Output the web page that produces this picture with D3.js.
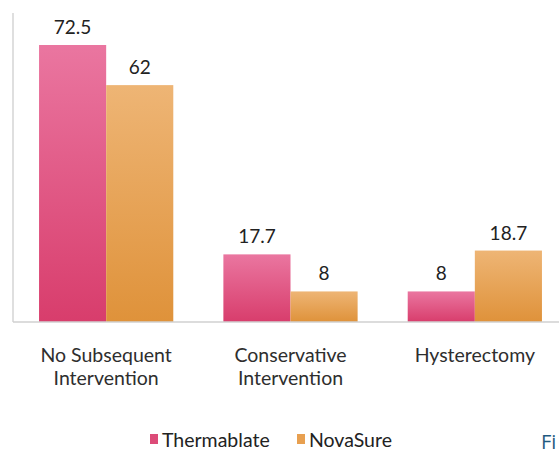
<!DOCTYPE html>
<html><head><meta charset="utf-8">
<script src="https://cdn.jsdelivr.net/npm/d3@7/dist/d3.min.js"></script>
<style>body{margin:0;background:#fff}svg{display:block}</style>
</head><body>
<svg id="c" width="559" height="454"></svg>
<script>
const categories = [["No Subsequent","Intervention"],["Conservative","Intervention"],["Hysterectomy"]];
const categoryKeys = ["No Subsequent Intervention","Conservative Intervention","Hysterectomy"];
const seriesNames = ["Thermablate","NovaSure"];
const thermablate = [72.5, 17.7, 8];
const novasure = [62, 8, 18.7];
const valueLabels = [["72.5","62"],["17.7","8"],["8","18.7"]];

const svg = d3.select("#c");
const W = 559, H = 454;
const baseY = 322, topY = 13, axisX = 13;
const FONT = "Lato, 'Noto Sans', sans-serif";

const defs = svg.append("defs");
const grads = [["gPink","#ea76a0","#d83d6c"],["gOrange","#eeb575","#df923a"]];
grads.forEach(([id,c1,c2])=>{
  const g = defs.append("linearGradient").attr("id",id).attr("x1",0).attr("y1",0).attr("x2",0).attr("y2",1);
  g.append("stop").attr("offset","0%").attr("stop-color",c1);
  g.append("stop").attr("offset","100%").attr("stop-color",c2);
});
const fills = ["url(#gPink)","url(#gOrange)"];
const legendColors = ["#dc4b78","#e8a050"];

const x0 = d3.scaleBand().domain(categoryKeys).range([axisX, 568]).paddingInner(50/184).paddingOuter(26/184);
const x1 = d3.scaleBand().domain(seriesNames).range([0, x0.bandwidth()]);
const y = d3.scaleLinear().domain([0, 72.5]).range([baseY, 45]);

svg.append("line").attr("x1",axisX).attr("x2",axisX).attr("y1",topY).attr("y2",baseY)
  .attr("stroke","#d4d4d4").attr("stroke-width",1.5);

const data = categoryKeys.map((k,i)=>({k, vals:[thermablate[i], novasure[i]], labels: valueLabels[i], lines: categories[i]}));

const groups = svg.selectAll("g.grp").data(data).join("g").attr("class","grp")
  .attr("transform", d=>`translate(${x0(d.k)},0)`);

groups.selectAll("rect").data(d=>d.vals.map((v,j)=>({v,j,s:seriesNames[j]}))).join("rect")
  .attr("x", d=>x1(d.s)).attr("width", x1.bandwidth())
  .attr("y", d=>y(d.v)).attr("height", d=>baseY - y(d.v))
  .attr("fill", d=>fills[d.j]);

groups.selectAll("text.val").data(d=>d.vals.map((v,j)=>({v,j,s:seriesNames[j],t:d.labels[j]}))).join("text")
  .attr("class","val")
  .attr("x", d=>x1(d.s)+x1.bandwidth()/2).attr("y", d=>y(d.v)-11)
  .attr("text-anchor","middle").attr("font-family",FONT).attr("font-size",19)
  .attr("fill","#222").text(d=>d.t);

svg.append("line").attr("x1",axisX).attr("x2",W).attr("y1",baseY).attr("y2",baseY)
  .attr("stroke","#d0d0d0").attr("stroke-width",1.5);

groups.each(function(d){
  const g = d3.select(this);
  d.lines.forEach((ln,i)=>{
    g.append("text").attr("x", x0.bandwidth()/2).attr("y", 362 + i*23)
      .attr("text-anchor","middle").attr("font-family",FONT).attr("font-size",19.5)
      .attr("fill","#2e2e2e").text(ln);
  });
});

const legendX = [150, 297];
seriesNames.forEach((s,i)=>{
  svg.append("rect").attr("x",legendX[i]).attr("y",434).attr("width",8).attr("height",10).attr("fill",legendColors[i]);
  svg.append("text").attr("x",legendX[i]+12).attr("y",447).attr("font-family",FONT).attr("font-size",19.5)
    .attr("fill","#222").text(s);
});

svg.append("text").attr("x",541).attr("y",449).attr("font-family","'Liberation Sans Narrow','Open Sans',sans-serif")
  .attr("font-size",20).attr("fill","#1f5a80").text("Fi");
</script>
</body></html>
